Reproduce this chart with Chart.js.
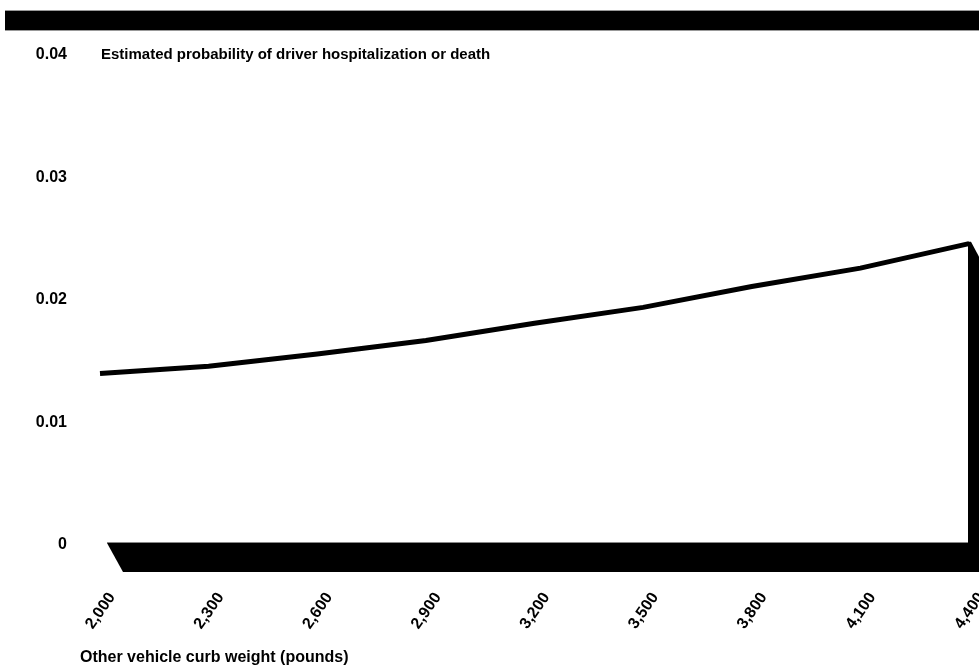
<!DOCTYPE html>
<html>
<head>
<meta charset="utf-8">
<script src="https://cdn.jsdelivr.net/npm/chart.js@4/dist/chart.umd.min.js"></script>
<style>
	html, body { margin: 0; padding: 0; background: #fff; }
	#wrap { width: 979px; height: 672px; }
</style>
</head>
<body>
<div id="wrap"><canvas id="grafik"></canvas></div>
<script>
// curb weight of the other vehicle (pounds)
var weights = [2000, 2300, 2600, 2900, 3200, 3500, 3800, 4100, 4400];
// estimated probability of driver hospitalization or death
var probability = [0.0140, 0.0146, 0.0156, 0.0167, 0.0181, 0.0194, 0.0211, 0.0226, 0.0246];
var yTicks = [0, 0.01, 0.02, 0.03, 0.04];

var titleText = 'Estimated probability of driver hospitalization or death';
var xTitleText = 'Other vehicle curb weight (pounds)';
var fontFamily = '"Liberation Sans", Arial, sans-serif';

// black bar on top, 3D floor and right wall, plus the two titles
var decor = {
	id: 'decor',
	beforeDatasetsDraw: function (chart) {
		var ctx = chart.ctx;
		var area = chart.chartArea;
		var y = chart.scales.y;
		var x = chart.scales.x;
		var floorY = y.getPixelForValue(0) - 2;
		var last = probability.length - 1;
		var endX = x.getPixelForValue(last);
		var endY = y.getPixelForValue(probability[last]);

		ctx.save();
		ctx.fillStyle = '#000';
		ctx.fillRect(5, 11, 974, 19);
		ctx.fillStyle = '#999';
		ctx.fillRect(5, 10, 974, 1);
		ctx.fillRect(5, 30, 974, 1);

		// floor
		ctx.fillStyle = '#000';
		ctx.beginPath();
		ctx.moveTo(area.left + 7, floorY);
		ctx.lineTo(979, floorY);
		ctx.lineTo(979, floorY + 29);
		ctx.lineTo(area.left + 23, floorY + 29);
		ctx.closePath();
		ctx.fill();
		ctx.fillStyle = '#888';
		ctx.fillRect(area.left + 7, floorY - 1, endX - area.left - 7, 1);

		// right wall under the end of the line
		ctx.fillStyle = '#000';
		ctx.beginPath();
		ctx.moveTo(endX - 1, endY - 2);
		ctx.lineTo(endX + 2, endY - 2);
		ctx.lineTo(979, endY + 13);
		ctx.lineTo(979, floorY + 29);
		ctx.lineTo(endX - 1, floorY + 29);
		ctx.closePath();
		ctx.fill();

		// titles
		ctx.fillStyle = '#000';
		ctx.textAlign = 'left';
		ctx.textBaseline = 'middle';
		ctx.font = 'bold 15px ' + fontFamily;
		ctx.fillText(titleText, area.left + 1, y.getPixelForValue(0.04));
		ctx.font = 'bold 16px ' + fontFamily;
		ctx.fillText(xTitleText, 80, 658);
		ctx.restore();
	}
};

var labels = weights.map(function (w) { return w.toLocaleString('en-US'); });

new Chart(document.getElementById('grafik'), {
	type: 'line',
	data: {
		labels: labels,
		datasets: [{
			label: 'Probability',
			data: probability,
			borderColor: '#000',
			borderWidth: 5,
			pointRadius: 0,
			tension: 0,
			fill: false
		}]
	},
	options: {
		responsive: true,
		maintainAspectRatio: false,
		animation: false,
		layout: { padding: { left: 35, right: 10, top: 55, bottom: 0 } },
		plugins: { legend: { display: false }, tooltip: { enabled: false } },
		scales: {
			x: {
				grid: { display: false, drawTicks: false },
				border: { display: false },
				ticks: {
					color: '#000',
					font: { family: fontFamily, size: 16, weight: 'bold' },
					minRotation: 55,
					maxRotation: 55,
					padding: 44,
					labelOffset: 12,
					autoSkip: false
				},
				afterFit: function (scale) {
					scale.height = 127;
					scale.paddingLeft = 0;
					scale.paddingRight = 0;
				}
			},
			y: {
				min: 0,
				max: 0.04,
				grid: { display: false, drawTicks: false },
				border: { display: false },
				afterBuildTicks: function (scale) {
					scale.ticks = yTicks.map(function (v) { return { value: v }; });
				},
				ticks: {
					color: '#000',
					font: { family: fontFamily, size: 16, weight: 'bold' },
					padding: 33,
					callback: function (v) { return v === 0 ? '0' : v.toFixed(2); }
				},
				afterFit: function (scale) {
					scale.width = 65;
					scale.paddingTop = 0;
					scale.paddingBottom = 0;
				}
			}
		}
	},
	plugins: [decor]
});
</script>
</body>
</html>
